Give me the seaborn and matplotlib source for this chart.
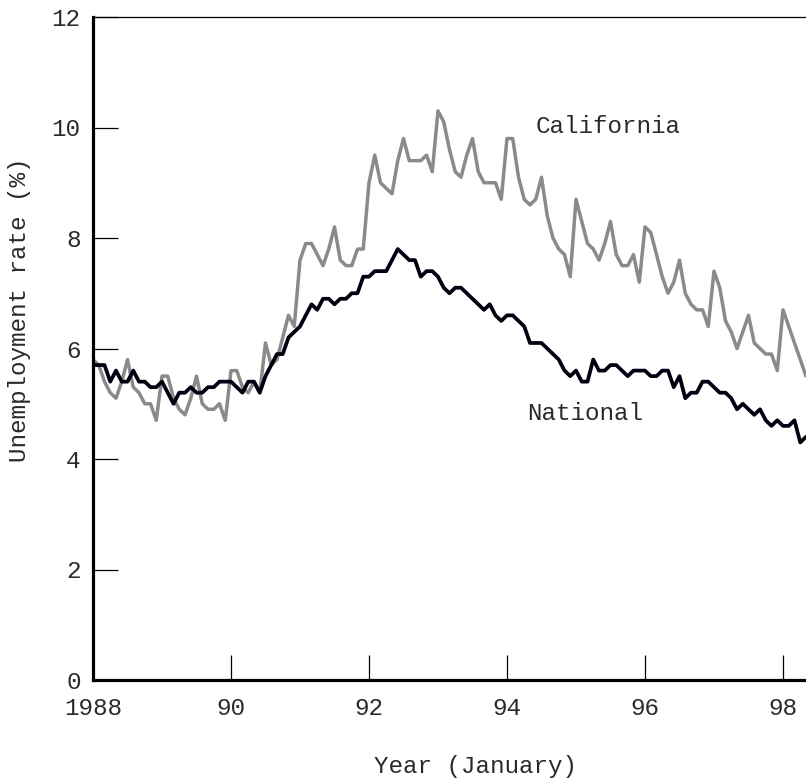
import numpy as np
import pandas as pd
import matplotlib
matplotlib.use("Agg")
import matplotlib.pyplot as plt
import seaborn as sns

# Monthly values, Jan 1988 .. May 1998
california = [
    5.8, 5.7, 5.4, 5.2, 5.1, 5.4, 5.8, 5.3, 5.2, 5.0, 5.0, 4.7,   # 1988
    5.5, 5.5, 5.1, 4.9, 4.8, 5.1, 5.5, 5.0, 4.9, 4.9, 5.0, 4.7,   # 1989
    5.6, 5.6, 5.3, 5.2, 5.4, 5.2, 6.1, 5.7, 5.8, 6.2, 6.6, 6.4,   # 1990
    7.6, 7.9, 7.9, 7.7, 7.5, 7.8, 8.2, 7.6, 7.5, 7.5, 7.8, 7.8,   # 1991
    9.0, 9.5, 9.0, 8.9, 8.8, 9.4, 9.8, 9.4, 9.4, 9.4, 9.5, 9.2,   # 1992
    10.3, 10.1, 9.6, 9.2, 9.1, 9.5, 9.8, 9.2, 9.0, 9.0, 9.0, 8.7, # 1993
    9.8, 9.8, 9.1, 8.7, 8.6, 8.7, 9.1, 8.4, 8.0, 7.8, 7.7, 7.3,   # 1994
    8.7, 8.3, 7.9, 7.8, 7.6, 7.9, 8.3, 7.7, 7.5, 7.5, 7.7, 7.2,   # 1995
    8.2, 8.1, 7.7, 7.3, 7.0, 7.2, 7.6, 7.0, 6.8, 6.7, 6.7, 6.4,   # 1996
    7.4, 7.1, 6.5, 6.3, 6.0, 6.3, 6.6, 6.1, 6.0, 5.9, 5.9, 5.6,   # 1997
    6.7, 6.4, 6.1, 5.8, 5.5,                                      # 1998
]
national = [
    5.7, 5.7, 5.7, 5.4, 5.6, 5.4, 5.4, 5.6, 5.4, 5.4, 5.3, 5.3,
    5.4, 5.2, 5.0, 5.2, 5.2, 5.3, 5.2, 5.2, 5.3, 5.3, 5.4, 5.4,
    5.4, 5.3, 5.2, 5.4, 5.4, 5.2, 5.5, 5.7, 5.9, 5.9, 6.2, 6.3,
    6.4, 6.6, 6.8, 6.7, 6.9, 6.9, 6.8, 6.9, 6.9, 7.0, 7.0, 7.3,
    7.3, 7.4, 7.4, 7.4, 7.6, 7.8, 7.7, 7.6, 7.6, 7.3, 7.4, 7.4,
    7.3, 7.1, 7.0, 7.1, 7.1, 7.0, 6.9, 6.8, 6.7, 6.8, 6.6, 6.5,
    6.6, 6.6, 6.5, 6.4, 6.1, 6.1, 6.1, 6.0, 5.9, 5.8, 5.6, 5.5,
    5.6, 5.4, 5.4, 5.8, 5.6, 5.6, 5.7, 5.7, 5.6, 5.5, 5.6, 5.6,
    5.6, 5.5, 5.5, 5.6, 5.6, 5.3, 5.5, 5.1, 5.2, 5.2, 5.4, 5.4,
    5.3, 5.2, 5.2, 5.1, 4.9, 5.0, 4.9, 4.8, 4.9, 4.7, 4.6, 4.7,
    4.6, 4.6, 4.7, 4.3, 4.4,
]
start_year = 1988
x_ticks = [1988, 1990, 1992, 1994, 1996, 1998]
x_ticklabels = ["1988", "90", "92", "94", "96", "98"]
y_ticks = [0, 2, 4, 6, 8, 10, 12]
y_ticklabels = ["0", "2", "4", "6", "8", "10", "12"]
series_names = ["California", "National"]
x_label = "Year (January)"
y_label = "Unemployment rate (%)"

n = len(california)
t = start_year + np.arange(n) / 12.0
df = pd.DataFrame({
    "t": np.concatenate([t, t]),
    "rate": np.concatenate([california, national]),
    "series": [series_names[0]] * n + [series_names[1]] * n,
})

sns.set_theme(style="white")
plt.rcParams["font.family"] = ["Liberation Mono", "DejaVu Sans"]

fig = plt.figure(figsize=(8.06, 7.8), dpi=100)
ax = fig.add_axes([93 / 806, 1 - 680 / 780, (806 - 93) / 806, (680 - 17) / 780])

sns.lineplot(data=df, x="t", y="rate", hue="series",
             palette={"California": "#8a8a8a", "National": "#000010"},
             linewidth=2.5, legend=False, ax=ax)
for line in ax.get_lines():
    if line.get_color() == "#000010":
        line.set_linewidth(2.7)

ax.set_xlim(1988, start_year + (n - 1) / 12.0)
ax.set_ylim(0, 12)
ax.set_xticks(x_ticks)
ax.set_xticklabels(x_ticklabels)
ax.set_yticks(y_ticks)
ax.set_yticklabels(y_ticklabels)

txt_color = "#2a2a2a"
ax.tick_params(axis="both", which="major", bottom=True, left=True,
               top=False, right=False, direction="in", length=18, width=0.9,
               color="black", labelsize=17.5, labelcolor=txt_color)
ax.tick_params(axis="x", pad=12)
ax.tick_params(axis="y", pad=9)

for s in ["left", "bottom"]:
    ax.spines[s].set_linewidth(2.3)
    ax.spines[s].set_color("black")
ax.spines["top"].set_linewidth(0.9)
ax.spines["top"].set_color("black")
ax.spines["right"].set_visible(False)

ax.set_xlabel(x_label, fontsize=17.5, color=txt_color)
ax.set_ylabel(y_label, fontsize=17.5, color=txt_color)
ax.xaxis.set_label_coords((475 - 93) / 713, -(755 - 680) / 663)
ax.yaxis.set_label_coords(-(93 - 31) / 713, (680 - 310) / 663)

ax.text(1994.41, 10.02, series_names[0], fontsize=17.5, color=txt_color,
        ha="left", va="center")
ax.text(1994.29, 4.83, series_names[1], fontsize=17.5, color=txt_color,
        ha="left", va="center")

ax.grid(False)
fig.savefig("out.png", dpi=100)
